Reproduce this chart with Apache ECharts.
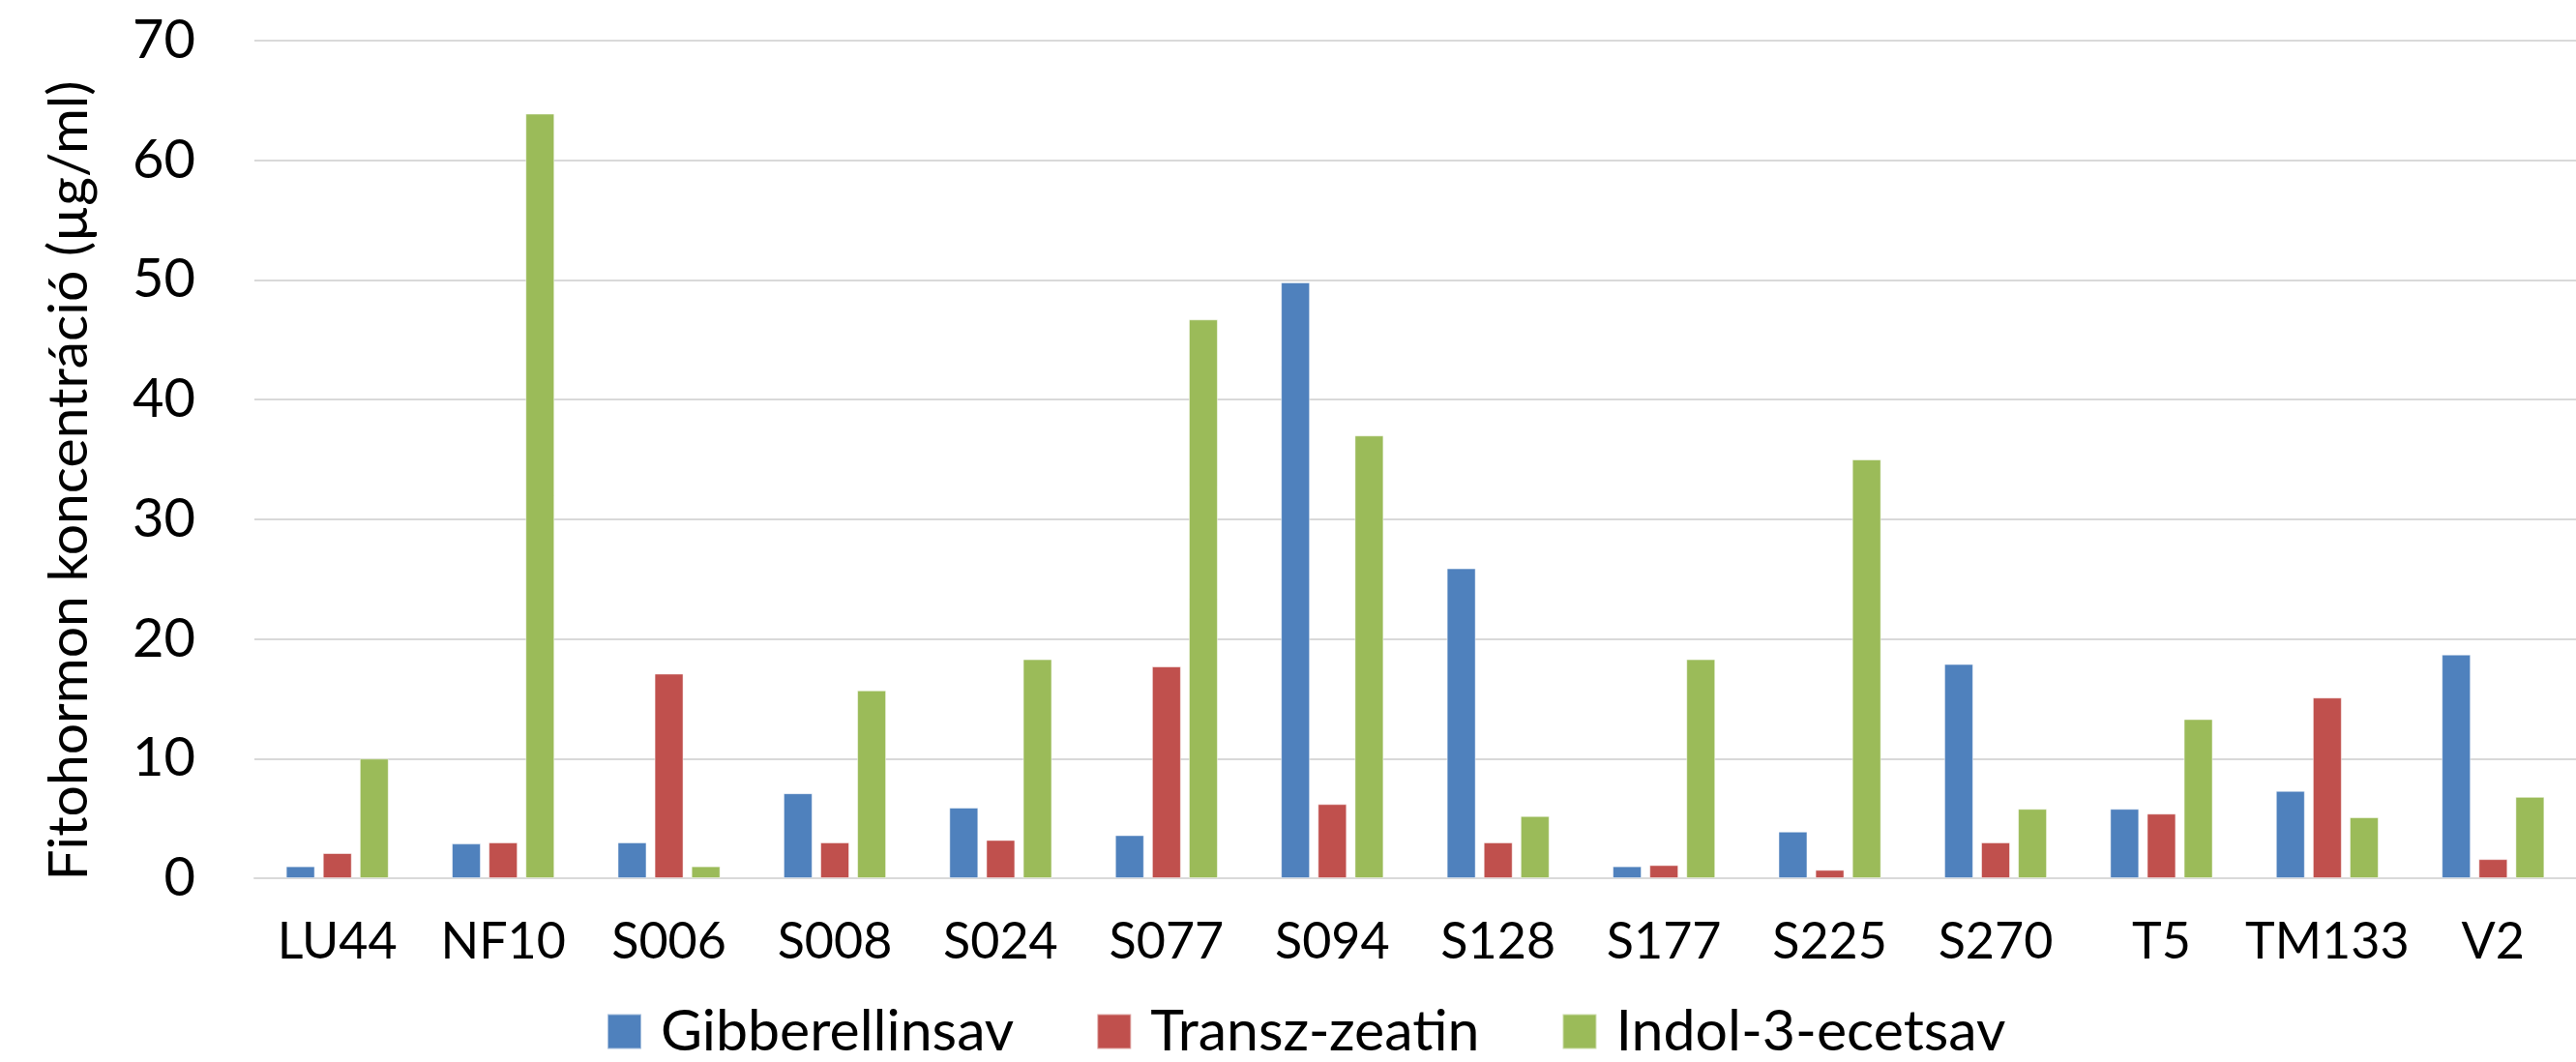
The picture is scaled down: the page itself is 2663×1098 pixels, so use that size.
<!DOCTYPE html>
<html>
<head>
<meta charset="utf-8">
<script src="https://cdn.jsdelivr.net/npm/echarts@6/dist/echarts.min.js"></script>
<style>
html,body{margin:0;padding:0;background:#fff;}
#chart{width:2663px;height:1098px;}
</style>
</head>
<body>
<div id="chart"></div>
<script>
const categories = ['LU44','NF10','S006','S008','S024','S077','S094','S128','S177','S225','S270','T5','TM133','V2'];
const seriesNames = ['Gibberellinsav','Transz-zeatin','Indol-3-ecetsav'];
const gibberellinsav = [1.0, 2.9, 3.0, 7.1, 5.9, 3.6, 49.8, 25.9, 1.0, 3.9, 17.9, 5.8, 7.3, 18.7];
const transzZeatin   = [2.1, 3.0, 17.1, 3.0, 3.2, 17.7, 6.2, 3.0, 1.1, 0.7, 3.0, 5.4, 15.1, 1.6];
const indolEcetsav   = [10.0, 63.9, 1.0, 15.7, 18.3, 46.7, 37.0, 5.2, 18.3, 35.0, 5.8, 13.3, 5.1, 6.8];
const yTicks = { min: 0, max: 70, interval: 10 };
const yTitle = 'Fitohormon koncentráció (µg/ml)';
const colors = ['#4F81BD', '#C0504D', '#9BBB59'];

const FONT = 'Lato';
const chart = echarts.init(document.getElementById('chart'), null, { renderer: 'canvas' });
const mkSeries = (name, data) => ({
  name, type: 'bar', data, barWidth: 30, barGap: '27%',
  itemStyle: { borderColor: 'rgba(255,255,255,0.5)', borderWidth: 1 }
});
chart.setOption({
  animation: false,
  color: colors,
  textStyle: { fontFamily: FONT },
  grid: { left: 263, right: -4, top: 42, bottom: 190, containLabel: false },
  legend: {
    data: seriesNames,
    left: 622, top: 1032,
    itemWidth: 35, itemHeight: 36, itemGap: 85,
    icon: 'rect',
    textStyle: { fontFamily: FONT, fontSize: 59, color: '#000', padding: [0, 0, 0, 15] }
  },
  xAxis: {
    type: 'category', data: categories,
    axisTick: { show: false },
    axisLine: { lineStyle: { color: '#D9D9D9', width: 2 } },
    axisLabel: { fontFamily: FONT, fontSize: 52, color: '#000', margin: 40, interval: 0 }
  },
  yAxis: {
    type: 'value', min: yTicks.min, max: yTicks.max, interval: yTicks.interval,
    axisLine: { show: false }, axisTick: { show: false },
    splitLine: { lineStyle: { color: '#D9D9D9', width: 2 } },
    axisLabel: { fontFamily: FONT, fontSize: 56, color: '#000', margin: 61 }
  },
  graphic: [{
    type: 'text', x: 72, y: 497, rotation: Math.PI / 2,
    style: { text: yTitle, font: '57px Lato', fill: '#000', textAlign: 'center', textVerticalAlign: 'middle' }
  }],
  series: [
    mkSeries(seriesNames[0], gibberellinsav),
    mkSeries(seriesNames[1], transzZeatin),
    mkSeries(seriesNames[2], indolEcetsav)
  ]
});
</script>
</body>
</html>
